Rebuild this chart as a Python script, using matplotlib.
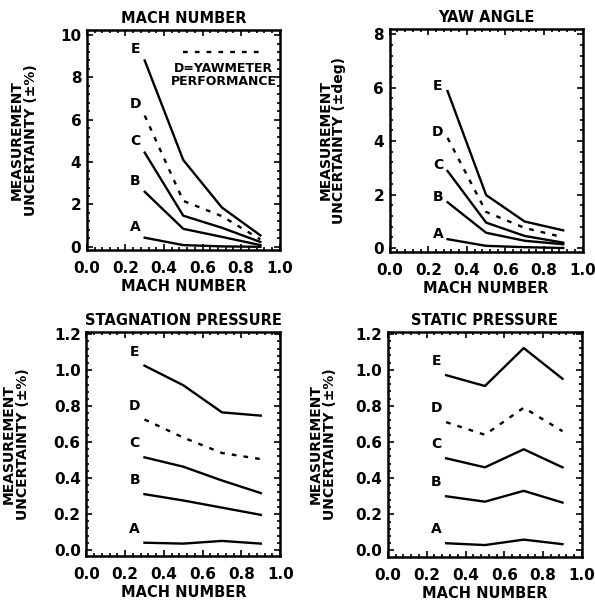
"""Incertidumbre de medida frente a número de Mach (cuatro paneles)."""

import matplotlib
matplotlib.use("Agg")
import matplotlib.pyplot as plt
from matplotlib.ticker import AutoMinorLocator, MultipleLocator

plt.rcParams["font.family"] = "DejaVu Sans"
plt.rcParams["font.weight"] = "bold"

MACH = [0.3, 0.5, 0.7, 0.9]
CURVAS = ["A", "B", "C", "D", "E"]

# valores, curva A..E
MACH_NUMBER = [
    [0.43, 0.08, 0.02, 0.0],
    [2.6, 0.85, 0.47, 0.08],
    [4.45, 1.47, 0.9, 0.23],
    [6.2, 2.17, 1.45, 0.35],
    [8.8, 4.1, 1.86, 0.54],
]
YAW_ANGLE = [
    [0.33, 0.08, 0.03, 0.0],
    [1.71, 0.57, 0.27, 0.14],
    [2.88, 0.95, 0.45, 0.2],
    [4.12, 1.35, 0.75, 0.4],
    [5.87, 1.98, 0.99, 0.66],
]
STAGNATION = [
    [0.04, 0.035, 0.05, 0.035],
    [0.31, 0.275, 0.235, 0.195],
    [0.515, 0.463, 0.386, 0.316],
    [0.726, 0.625, 0.539, 0.505],
    [1.025, 0.916, 0.765, 0.747],
]
STATIC = [
    [0.04, 0.03, 0.06, 0.035],
    [0.30, 0.27, 0.33, 0.265],
    [0.51, 0.46, 0.56, 0.46],
    [0.71, 0.64, 0.79, 0.66],
    [0.97, 0.91, 1.12, 0.95],
]

PANELES = [
    # titulo, datos, etiqueta y, ylim, paso y, rect, pos. etiqueta y, desplaz. letras
    ("MACH NUMBER", MACH_NUMBER, "MEASUREMENT\nUNCERTAINTY (±%)",
     (-0.16, 10.24), 2, [0.146, 0.583, 0.324, 0.367], -0.255, 8, "%d"),
    ("YAW ANGLE", YAW_ANGLE, "MEASUREMENT\nUNCERTAINTY (±deg)",
     (-0.15, 8.2), 2, [0.655, 0.580, 0.324, 0.372], -0.225, 4, "%d"),
    ("STAGNATION PRESSURE", STAGNATION, "MEASUREMENT\nUNCERTAINTY (±%)",
     (-0.035, 1.21), 0.2, [0.145, 0.073, 0.326, 0.373], -0.29, 10, "%.1f"),
    ("STATIC PRESSURE", STATIC, "MEASUREMENT\nUNCERTAINTY (±%)",
     (-0.035, 1.21), 0.2, [0.652, 0.072, 0.326, 0.375], -0.265, 10, "%.1f"),
]


def dibujar_panel(fig, titulo, datos, etiqueta_y, ylim, paso, rect,
                  pos_y, desplaz, formato):
    ax = fig.add_axes(rect)
    for letra, valores in zip(CURVAS, datos):
        estilo = (0, (2, 3)) if letra == "D" else "-"
        ax.plot(MACH, valores, color="black", lw=1.7, linestyle=estilo)
        ax.annotate(letra, (0.25, valores[0]), xytext=(0, desplaz),
                    textcoords="offset points", ha="center", va="center",
                    fontsize=10, fontweight="bold")
    ax.set_xlim(0, 1)
    ax.set_ylim(*ylim)
    ax.xaxis.set_major_locator(MultipleLocator(0.2))
    ax.xaxis.set_major_formatter("{x:.1f}")
    ax.yaxis.set_major_locator(MultipleLocator(paso))
    ax.yaxis.set_major_formatter(matplotlib.ticker.FormatStrFormatter(formato))
    ax.xaxis.set_minor_locator(AutoMinorLocator(5))
    ax.yaxis.set_minor_locator(AutoMinorLocator(5))
    ax.tick_params(which="both", direction="in", top=True, right=True,
                   width=1.2, labelsize=11)
    ax.tick_params(which="major", length=4)
    ax.tick_params(which="minor", length=2)
    ax.tick_params(axis="x", pad=8)
    ax.tick_params(axis="y", pad=4)
    for lado in ax.spines.values():
        lado.set_linewidth(1.8)
    ax.set_title(titulo, fontsize=10.5, fontweight="bold", pad=5)
    ax.set_xlabel("MACH NUMBER", fontsize=10.5, fontweight="bold", labelpad=2)
    ax.set_ylabel(etiqueta_y, fontsize=10, fontweight="bold", linespacing=1.0)
    ax.yaxis.set_label_coords(pos_y, 0.5)
    return ax


fig = plt.figure(figsize=(5.95, 6.0), dpi=100)
ejes = [dibujar_panel(fig, *p) for p in PANELES]

# leyenda del panel de Mach
ax = ejes[0]
ax.plot([0.5, 0.92], [9.2, 9.2], color="black", lw=1.7, linestyle=(0, (2, 3)))
ax.text(0.71, 8.1, "D=YAWMETER\nPERFORMANCE", ha="center", va="center",
        fontsize=9, fontweight="bold", linespacing=1.0)

fig.savefig("out.png", dpi=100)
